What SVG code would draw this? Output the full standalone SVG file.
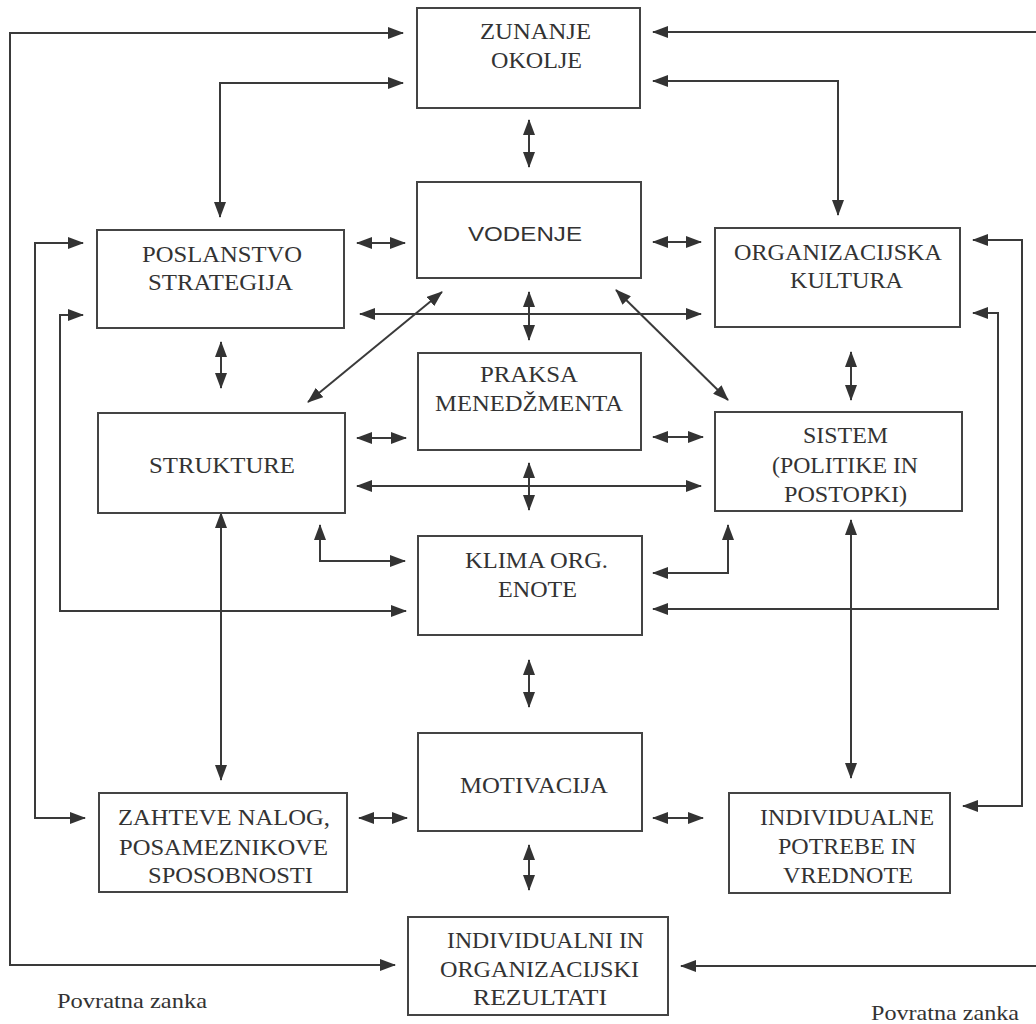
<svg xmlns="http://www.w3.org/2000/svg" width="1036" height="1024" viewBox="0 0 1036 1024">
  <defs>
    <marker id="head" markerUnits="userSpaceOnUse" markerWidth="16" markerHeight="12" refX="15" refY="6" orient="auto-start-reverse" viewBox="0 0 16 12">
      <path d="M0,0 L16,6 L0,12 z" fill="#333"/>
    </marker>
    <style>
      .box rect { fill: #fff; stroke: #444; stroke-width: 2; }
      .lbl { font-family: "Liberation Serif", "Times New Roman", serif; font-size: 23px; fill: #333; text-anchor: middle; }
      .sans { font-family: "Liberation Sans", Arial, sans-serif; font-size: 20px; fill: #333; text-anchor: middle; }
      .note { font-family: "Liberation Serif", "Times New Roman", serif; font-size: 21px; fill: #333; }
      #connectors path { fill: none; stroke: #3a3a3a; stroke-width: 2; }
      .both { marker-start: url(#head); marker-end: url(#head); }
      .start { marker-start: url(#head); }
    </style>
  </defs>
  <rect width="1036" height="1024" fill="#fff"/>

  <g id="connectors">
    <!-- feedback loops round the outside -->
    <path class="both" d="M403,33 H10 V965 H395"/>
    <path class="start" d="M653,32 H1036"/>
    <path class="start" d="M681,966 H1036"/>
    <!-- environment links -->
    <path class="both" d="M403,83 H220 V217"/>
    <path class="both" d="M653,81 H838 V215"/>
    <path class="both" d="M529,120 V167"/>
    <!-- leadership row -->
    <path class="both" d="M357,243 H405"/>
    <path class="both" d="M653,242 H701"/>
    <path class="both" d="M360,314 H701"/>
    <path class="both" d="M529,292 V340"/>
    <path class="both" d="M442,292 L308,402"/>
    <path class="both" d="M616,290 L728,400"/>
    <path class="both" d="M221,342 V388"/>
    <path class="both" d="M851,352 V400"/>
    <!-- management practice row -->
    <path class="both" d="M357,438 H406"/>
    <path class="both" d="M653,437 H703"/>
    <path class="both" d="M357,486 H701"/>
    <path class="both" d="M529,463 V510"/>
    <!-- climate links -->
    <path class="both" d="M320,525 V561 H405"/>
    <path class="both" d="M653,573 H728 V525"/>
    <path class="both" d="M83,315 H60 V611 H406"/>
    <path class="both" d="M973,313 H998 V609 H653"/>
    <!-- long side loops -->
    <path class="both" d="M83,243 H35 V818 H85"/>
    <path class="both" d="M973,240 H1022 V806 H963"/>
    <path class="both" d="M221,513 V780"/>
    <path class="both" d="M851,520 V778"/>
    <!-- motivation row -->
    <path class="both" d="M529,660 V707"/>
    <path class="both" d="M359,818 H407"/>
    <path class="both" d="M653,818 H703"/>
    <path class="both" d="M529,845 V890"/>
  </g>

  <g id="zunanje-okolje" class="box">
    <rect x="417" y="8" width="223" height="100"/>
    <text class="lbl" x="535.5" y="39" textLength="111" lengthAdjust="spacingAndGlyphs">ZUNANJE</text>
    <text class="lbl" x="536.5" y="68" textLength="91" lengthAdjust="spacingAndGlyphs">OKOLJE</text>
  </g>

  <g id="vodenje" class="box">
    <rect x="417" y="182" width="224" height="96"/>
    <text class="sans" x="525" y="241" textLength="114" lengthAdjust="spacingAndGlyphs">VODENJE</text>
  </g>

  <g id="poslanstvo-strategija" class="box">
    <rect x="97" y="230" width="247" height="98"/>
    <text class="lbl" x="222" y="262" textLength="160" lengthAdjust="spacingAndGlyphs">POSLANSTVO</text>
    <text class="lbl" x="220.5" y="290" textLength="145" lengthAdjust="spacingAndGlyphs">STRATEGIJA</text>
  </g>

  <g id="organizacijska-kultura" class="box">
    <rect x="715" y="228" width="245" height="99"/>
    <text class="lbl" x="838" y="260" textLength="208" lengthAdjust="spacingAndGlyphs">ORGANIZACIJSKA</text>
    <text class="lbl" x="846.5" y="288" textLength="113" lengthAdjust="spacingAndGlyphs">KULTURA</text>
  </g>

  <g id="praksa-menedzmenta" class="box">
    <rect x="418" y="353" width="223" height="97"/>
    <text class="lbl" x="529" y="382" textLength="98" lengthAdjust="spacingAndGlyphs">PRAKSA</text>
    <text class="lbl" x="529" y="411" textLength="188" lengthAdjust="spacingAndGlyphs">MENEDŽMENTA</text>
  </g>

  <g id="strukture" class="box">
    <rect x="98" y="413" width="247" height="100"/>
    <text class="lbl" x="222" y="473" textLength="146" lengthAdjust="spacingAndGlyphs">STRUKTURE</text>
  </g>

  <g id="sistem" class="box">
    <rect x="715" y="412" width="247" height="99"/>
    <text class="lbl" x="845.5" y="443" textLength="85" lengthAdjust="spacingAndGlyphs">SISTEM</text>
    <text class="lbl" x="845" y="473" textLength="146" lengthAdjust="spacingAndGlyphs">(POLITIKE IN</text>
    <text class="lbl" x="845.5" y="502" textLength="123" lengthAdjust="spacingAndGlyphs">POSTOPKI)</text>
  </g>

  <g id="klima-org-enote" class="box">
    <rect x="418" y="536" width="224" height="99"/>
    <text class="lbl" x="536.5" y="568" textLength="143" lengthAdjust="spacingAndGlyphs">KLIMA ORG.</text>
    <text class="lbl" x="537.5" y="597" textLength="79" lengthAdjust="spacingAndGlyphs">ENOTE</text>
  </g>

  <g id="motivacija" class="box">
    <rect x="418" y="733" width="224" height="98"/>
    <text class="lbl" x="534" y="793" textLength="148" lengthAdjust="spacingAndGlyphs">MOTIVACIJA</text>
  </g>

  <g id="zahteve-nalog" class="box">
    <rect x="99" y="793" width="248" height="99"/>
    <text class="lbl" x="224" y="825" textLength="212" lengthAdjust="spacingAndGlyphs">ZAHTEVE NALOG,</text>
    <text class="lbl" x="223.5" y="855" textLength="209" lengthAdjust="spacingAndGlyphs">POSAMEZNIKOVE</text>
    <text class="lbl" x="230.5" y="883" textLength="165" lengthAdjust="spacingAndGlyphs">SPOSOBNOSTI</text>
  </g>

  <g id="individualne-potrebe" class="box">
    <rect x="729" y="793" width="221" height="100"/>
    <text class="lbl" x="847" y="825" textLength="174" lengthAdjust="spacingAndGlyphs">INDIVIDUALNE</text>
    <text class="lbl" x="847" y="854" textLength="138" lengthAdjust="spacingAndGlyphs">POTREBE IN</text>
    <text class="lbl" x="848" y="883" textLength="130" lengthAdjust="spacingAndGlyphs">VREDNOTE</text>
  </g>

  <g id="rezultati" class="box">
    <rect x="408" y="917" width="260" height="98"/>
    <text class="lbl" x="545.5" y="948" textLength="197" lengthAdjust="spacingAndGlyphs">INDIVIDUALNI IN</text>
    <text class="lbl" x="539.5" y="977" textLength="199" lengthAdjust="spacingAndGlyphs">ORGANIZACIJSKI</text>
    <text class="lbl" x="540" y="1005" textLength="134" lengthAdjust="spacingAndGlyphs">REZULTATI</text>
  </g>

  <g id="loop-labels">
    <text class="note" x="57" y="1008" textLength="150" lengthAdjust="spacingAndGlyphs">Povratna zanka</text>
    <text class="note" x="871" y="1020" textLength="148" lengthAdjust="spacingAndGlyphs">Povratna zanka</text>
  </g>
</svg>
